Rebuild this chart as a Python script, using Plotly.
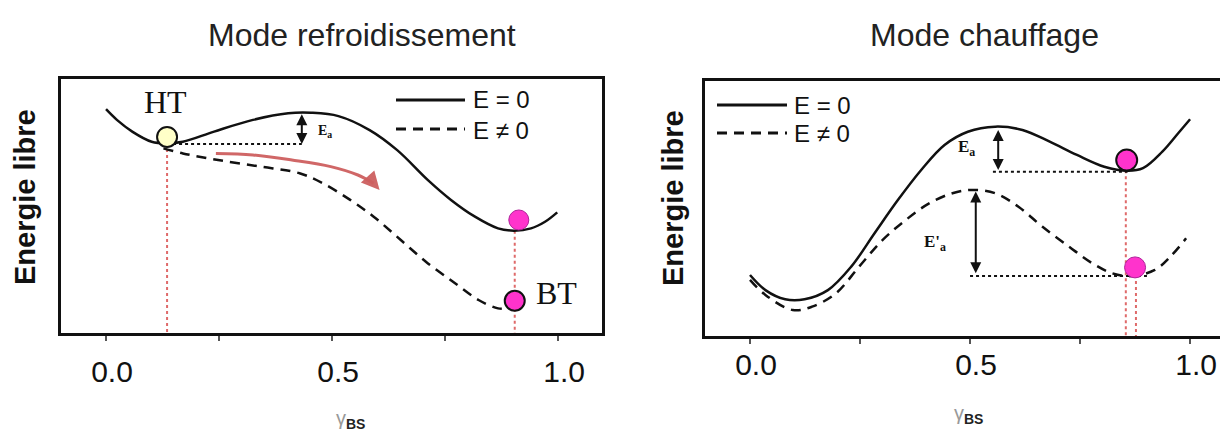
import plotly.graph_objects as go

# ---------------- data (left panel: Mode refroidissement) ----------------
left_solid_x = [0.0, 0.024, 0.058, 0.101, 0.135, 0.170, 0.239, 0.325, 0.403, 0.454, 0.514,
                0.583, 0.644, 0.712, 0.763, 0.816, 0.867, 0.902, 0.940, 0.971, 0.998]
left_solid_e = [8.81, 8.39, 7.93, 7.53, 7.47, 7.53, 7.93, 8.39, 8.65, 8.67, 8.54,
                7.99, 7.20, 6.02, 5.24, 4.58, 4.12, 4.03, 4.12, 4.38, 4.75]
left_dash_x = [0.127, 0.170, 0.248, 0.342, 0.428, 0.480, 0.540, 0.592, 0.652, 0.712,
               0.772, 0.824, 0.867, 0.893]
left_dash_e = [7.27, 7.07, 6.81, 6.55, 6.29, 5.89, 5.24, 4.58, 3.66, 2.74,
               1.96, 1.30, 0.97, 0.97]
left_red_x = [0.243, 0.325, 0.411, 0.497, 0.557, 0.592]
left_red_e = [7.07, 7.01, 6.81, 6.55, 6.22, 5.89]
left_red_head = (0.605, 5.63)
left_ht = (0.135, 7.72)        # HT state
left_pink_top = (0.913, 4.45)  # state on E=0 curve
left_bt = (0.904, 1.27)        # BT state
left_ea_x = 0.433
left_ea_range = (7.44, 8.67)
left_dotted_x = [0.135, 0.433]

# ---------------- data (right panel: Mode chauffage) ----------------
right_solid_x = [0.0, 0.035, 0.080, 0.124, 0.177, 0.230, 0.283, 0.336, 0.389, 0.442, 0.495,
                 0.557, 0.619, 0.681, 0.743, 0.805, 0.858, 0.893, 0.937, 0.973, 1.0]
right_solid_e = [2.39, 1.80, 1.44, 1.44, 1.80, 2.72, 4.03, 5.33, 6.51, 7.49, 8.01,
                 8.21, 8.08, 7.62, 7.10, 6.64, 6.48, 6.58, 7.23, 7.95, 8.50]
right_dash_x = [0.0, 0.035, 0.097, 0.141, 0.195, 0.248, 0.301, 0.354, 0.407, 0.460, 0.504,
                0.557, 0.610, 0.664, 0.725, 0.778, 0.823, 0.866, 0.920, 0.955, 0.991]
right_dash_e = [2.20, 1.61, 1.02, 1.15, 1.67, 2.72, 3.76, 4.55, 5.20, 5.60, 5.73,
                5.60, 5.07, 4.29, 3.50, 2.85, 2.46, 2.35, 2.59, 3.11, 3.83]
right_pink_top = (0.856, 6.90)
right_pink_low = (0.875, 2.69)
right_ea_x = 0.564
right_ea_range = (6.51, 8.14)
right_eap_x = 0.513
right_eap_range = (2.46, 5.73)
right_dot_top_x = [0.552, 0.858]
right_dot_top_e = 6.44
right_dot_low_x = [0.500, 0.902]
right_dot_low_e = 2.35

tick_vals = [0.0, 0.25, 0.5, 0.75, 1.0]
tick_text = ["0.0", "", "0.5", "", "1.0"]
titles = ["Mode refroidissement", "Mode chauffage"]
y_title = "Energie libre"
legend_labels = ["E = 0", "E \u2260 0"]

PINK = "#FF33CC"
RED = "rgba(220,90,90,0.9)"
BLACK = "#111111"

fig = go.Figure()


def line(x, y, xa, ya, dash="solid", color=BLACK, width=2.5, shape="spline"):
    fig.add_trace(go.Scatter(x=x, y=y, xaxis=xa, yaxis=ya, mode="lines",
                             line=dict(color=color, width=width, dash=dash, shape=shape,
                                       smoothing=1.0),
                             hoverinfo="skip", showlegend=False))


def dot(pt, xa, ya, fill, outline, size=20, lw=2):
    fig.add_trace(go.Scatter(x=[pt[0]], y=[pt[1]], xaxis=xa, yaxis=ya, mode="markers",
                             marker=dict(size=size, color=fill,
                                         line=dict(color=outline, width=lw)),
                             hoverinfo="skip", showlegend=False))


# ---- left panel ----
line([left_ht[0], left_ht[0]], [left_ht[1], 0], "x", "y", dash="dot", color=RED, width=2, shape="linear")
line([left_bt[0], left_bt[0]], [left_solid_e[17], 0], "x", "y", dash="dot", color=RED, width=2, shape="linear")
line(left_solid_x, left_solid_e, "x", "y")
line(left_dash_x, left_dash_e, "x", "y", dash="10px,7px")
line(left_dotted_x, [left_ea_range[0]] * 2, "x", "y", dash="dot", width=2, shape="linear")
line(left_red_x, left_red_e, "x", "y", color="rgba(205,95,95,0.95)", width=3)
dot(left_ht, "x", "y", "#FFFFC8", BLACK, size=20)
dot(left_pink_top, "x", "y", PINK, "#B0209A", size=20, lw=1)
dot(left_bt, "x", "y", PINK, BLACK, size=20)

# ---- right panel ----
line([right_pink_top[0] - 0.002] * 2, [right_pink_top[1] - 0.4, 0], "x2", "y2", dash="dot", color=RED, width=2, shape="linear")
line([right_pink_low[0] + 0.002] * 2, [right_pink_low[1] - 0.3, 0], "x2", "y2", dash="dot", color=RED, width=2, shape="linear")
line(right_solid_x, right_solid_e, "x2", "y2")
line(right_dash_x, right_dash_e, "x2", "y2", dash="10px,7px")
line(right_dot_top_x, [right_dot_top_e] * 2, "x2", "y2", dash="dot", width=2, shape="linear")
line(right_dot_low_x, [right_dot_low_e] * 2, "x2", "y2", dash="dot", width=2, shape="linear")
dot(right_pink_top, "x2", "y2", PINK, BLACK, size=21)
dot(right_pink_low, "x2", "y2", PINK, "#B0209A", size=21, lw=1)

annotations = []


def arrow(xv, rng, xr, yr, both=True):
    annotations.append(dict(x=xv, y=rng[0], ax=xv, ay=rng[1], xref=xr, yref=yr,
                            axref=xr, ayref=yr, text="", showarrow=True,
                            arrowhead=2, arrowsize=1.1, arrowwidth=2, arrowcolor=BLACK,
                            arrowside="end+start" if both else "end"))


arrow(left_ea_x, left_ea_range, "x", "y")
arrow(right_ea_x, right_ea_range, "x2", "y2")
arrow(right_eap_x, right_eap_range, "x2", "y2")
# red arrow head
annotations.append(dict(x=left_red_head[0], y=left_red_head[1], ax=left_red_x[-1], ay=left_red_e[-1],
                        xref="x", yref="y", axref="x", ayref="y", text="", showarrow=True,
                        arrowhead=2, arrowsize=1.2, arrowwidth=3, arrowcolor="rgba(205,95,95,0.95)"))

serif = "Liberation Serif"
annotations += [
    dict(x=0.131, y=9.09, xref="x", yref="y", text="HT", showarrow=False,
         font=dict(family=serif, size=32, color=BLACK)),
    dict(x=0.996, y=1.56, xref="x", yref="y", text="BT", showarrow=False,
         font=dict(family=serif, size=32, color=BLACK)),
    dict(x=0.485, y=7.95, xref="x", yref="y", text="<b>E<sub>a</sub></b>", showarrow=False,
         font=dict(family=serif, size=14, color=BLACK)),
    dict(x=0.491, y=7.36, xref="x2", yref="y2", text="<b>E<sub>a</sub></b>", showarrow=False,
         font=dict(family=serif, size=17, color=BLACK)),
    dict(x=0.42, y=3.63, xref="x2", yref="y2", text="<b>E'<sub>a</sub></b>", showarrow=False,
         font=dict(family=serif, size=17, color=BLACK)),
]

W, H = 1220, 435
sans = "Liberation Sans"


def px(xp):
    return xp / W


def py(yp):
    return 1 - yp / H


# titles
for t, cx in zip(titles, [362, 985]):
    annotations.append(dict(x=px(cx), y=py(35), xref="paper", yref="paper", text=t,
                            showarrow=False, xanchor="center", yanchor="middle",
                            font=dict(family=sans, size=32, color="#222")))
# y titles
for cx, cy in [(25, 197), (673, 198)]:
    annotations.append(dict(x=px(cx), y=py(cy), xref="paper", yref="paper", text="<b>" + y_title + "</b>",
                            showarrow=False, textangle=-90, xanchor="center", yanchor="middle",
                            font=dict(family=sans, size=29, color=BLACK)))
# x titles
for cx, cy in [(350, 419), (968, 414)]:
    annotations.append(dict(x=px(cx), y=py(cy), xref="paper", yref="paper",
                            text="<span style='color:#999'>\u03b3</span><b><sub>BS</sub></b>",
                            showarrow=False, xanchor="center", yanchor="middle",
                            font=dict(family=sans, size=20, color="#222")))
# legend texts
for (tx, ty), lab in zip([(471, 100), (471, 130), (792, 105), (792, 133)], legend_labels * 2):
    annotations.append(dict(x=px(tx), y=py(ty), xref="paper", yref="paper", text=lab,
                            showarrow=False, xanchor="left", yanchor="middle",
                            font=dict(family=sans, size=24, color=BLACK)))

shapes = []
for x0, x1, yy, dash in [(396, 465, 100, "solid"), (396, 465, 129, "10px,7px"),
                         (717, 787, 105, "solid"), (717, 787, 133, "10px,7px")]:
    shapes.append(dict(type="line", xref="paper", yref="paper", x0=px(x0), x1=px(x1),
                       y0=py(yy), y1=py(yy), line=dict(color=BLACK, width=3, dash=dash)))

xcommon = dict(tickvals=tick_vals, ticktext=tick_text, ticks="outside", ticklen=5, tickwidth=2,
               tickcolor="#555", showgrid=False, zeroline=False, showline=True, linecolor=BLACK,
               linewidth=3, tickfont=dict(family=sans, size=30, color=BLACK), ticklabelshift=6)
ycommon = dict(showticklabels=False, ticks="", showgrid=False, zeroline=False, showline=True,
               linecolor=BLACK, linewidth=3, range=[0, 10])

fig.update_layout(
    width=W, height=H, margin=dict(l=0, r=0, t=0, b=0),
    paper_bgcolor="white", plot_bgcolor="white", showlegend=False,
    xaxis=dict(domain=[px(61), px(602)], range=[-0.0996, 1.097], anchor="y", mirror=True,
               ticklabelstandoff=5, **xcommon),
    yaxis=dict(domain=[py(333), py(79)], anchor="x", mirror=True, **ycommon),
    xaxis2=dict(domain=[px(704.5), 1.0], range=[-0.1034, 1.068], anchor="y2", mirror=True,
                ticklabelstandoff=-5, **xcommon),
    yaxis2=dict(domain=[py(336), py(81)], anchor="x2", **ycommon),
    annotations=annotations, shapes=shapes,
)

fig.write_html("out.html", config={"displayModeBar": False},
               post_script="document.body.style.margin='0';document.body.style.overflow='hidden';")
